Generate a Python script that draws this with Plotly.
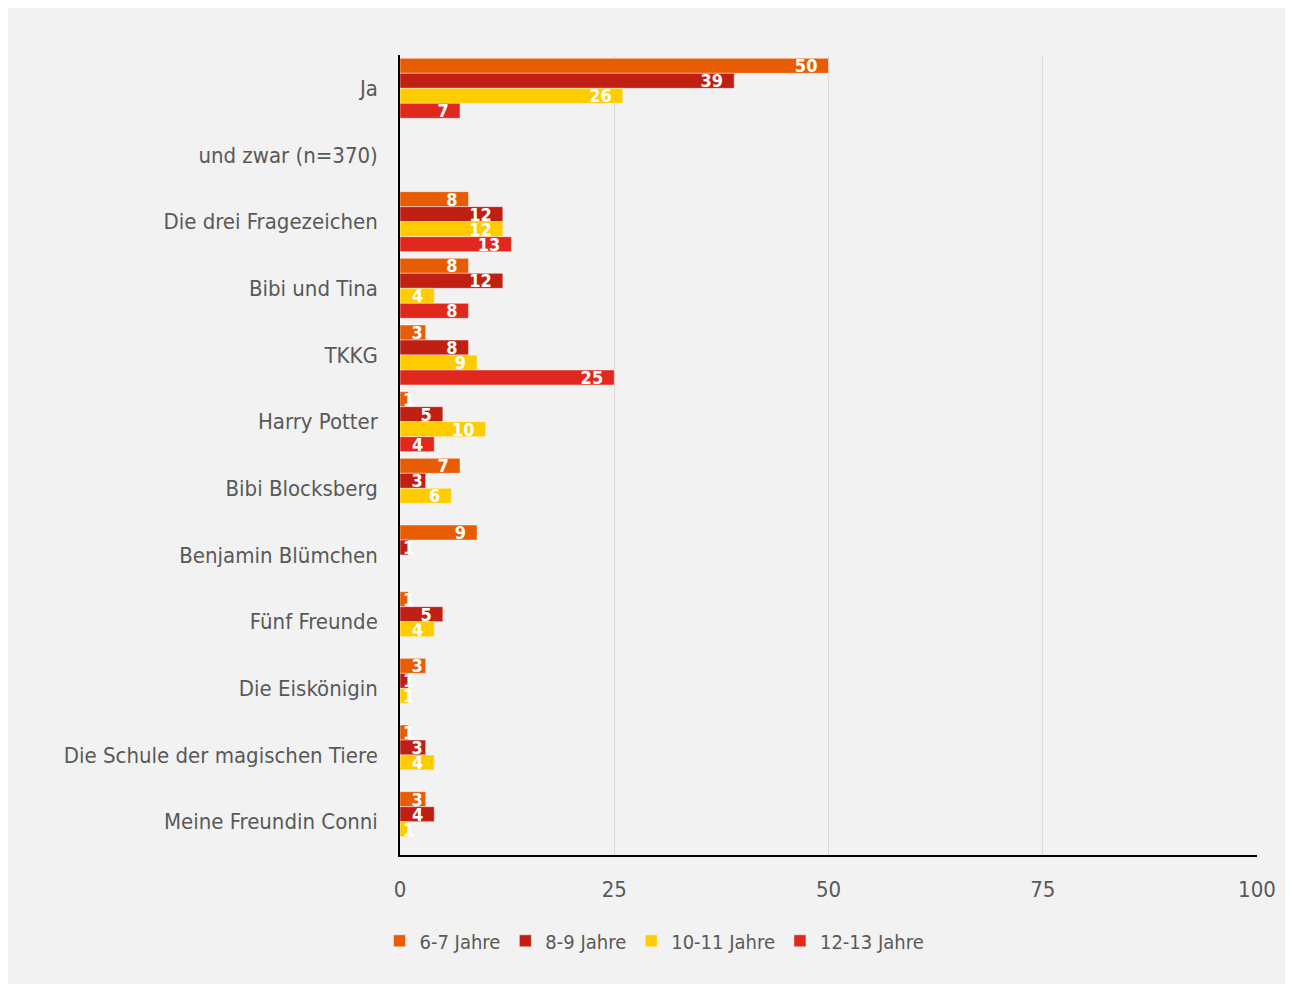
import plotly.graph_objects as go

categories = ["Ja", "und zwar (n=370)", "Die drei Fragezeichen", "Bibi und Tina", "TKKG",
              "Harry Potter", "Bibi Blocksberg", "Benjamin Blümchen", "Fünf Freunde",
              "Die Eiskönigin", "Die Schule der magischen Tiere", "Meine Freundin Conni"]
series_names = ["6-7 Jahre", "8-9 Jahre", "10-11 Jahre", "12-13 Jahre"]
v_6_7 = [50, None, 8, 8, 3, 1, 7, 9, 1, 3, 1, 3]
v_8_9 = [39, None, 12, 12, 8, 5, 3, 1, 5, 1, 3, 4]
v_10_11 = [26, None, 12, 4, 9, 10, 6, None, 4, 1, 4, 1]
v_12_13 = [7, None, 13, 8, 25, 4, None, None, None, None, None, None]
colors = ["#E85D04", "#C02013", "#FFCC00", "#E0281E"]
x_ticks = [0, 25, 50, 75, 100]

FONT = "DejaVu Sans Condensed"
N = len(series_names)
BAR_W = 0.9 / N


def label_end(v):
    if v is None or v < 3:
        return ""
    return f"{v}\u2002" if v >= 4 else str(v)


def label_start(v):
    if v is None or v >= 3:
        return ""
    return str(v)


fig = go.Figure()
for i, (name, vals, col) in enumerate(zip(series_names, [v_6_7, v_8_9, v_10_11, v_12_13], colors)):
    off = -0.45 + i * BAR_W
    fig.add_trace(go.Bar(
        y=categories, x=vals, name=name, orientation="h",
        offset=off, width=BAR_W,
        marker=dict(color=col, line=dict(color="rgba(255,255,255,0.45)", width=1)),
        text=[label_end(v) for v in vals],
        textposition="inside", insidetextanchor="end", constraintext="none", textangle=0,
        textfont=dict(family=FONT, size=18, color="white", weight="bold"),
        cliponaxis=False,
    ))
    # labels for very short bars, anchored at the bar start (as in the reference)
    fig.add_trace(go.Bar(
        y=categories, x=vals, name=name, orientation="h", showlegend=False,
        offset=off, width=BAR_W, hoverinfo="skip",
        marker=dict(color="rgba(0,0,0,0)", line=dict(width=0)),
        text=[label_start(v) for v in vals],
        textposition="inside", insidetextanchor="start", constraintext="none", textangle=0,
        textfont=dict(family=FONT, size=18, color="white", weight="bold"),
        cliponaxis=False,
    ))

fig.update_layout(
    width=1293, height=984,
    paper_bgcolor="#F2F2F2", plot_bgcolor="#F2F2F2",
    margin=dict(l=392, r=44, t=47, b=137),
    barmode="overlay",
    font=dict(family=FONT, size=22, color="#595959"),
    showlegend=True,
    legend=dict(orientation="h", x=0.5, xanchor="center", xref="container",
                y=0.052, yanchor="middle", yref="container",
                font=dict(family=FONT, size=20, color="#595959"),
                itemwidth=30, bgcolor="rgba(0,0,0,0)"),
)
fig.update_xaxes(range=[0, 100], tickvals=x_ticks, showgrid=True, gridcolor="#D9D9D9",
                 gridwidth=1, zeroline=False, showline=True, linecolor="#000000", linewidth=1.5,
                 ticks="outside", ticklen=14, tickcolor="rgba(0,0,0,0)",
                 tickfont=dict(family=FONT, size=22, color="#595959"), fixedrange=True)
fig.update_yaxes(autorange="reversed", showline=True, linecolor="#000000", linewidth=1.5,
                 showgrid=False, ticks="outside", ticklen=16, tickcolor="rgba(0,0,0,0)",
                 tickfont=dict(family=FONT, size=22, color="#595959"))

fig.write_html("out.html")
